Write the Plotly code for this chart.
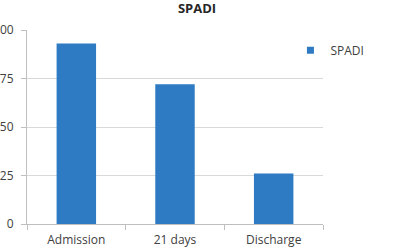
import plotly.graph_objects as go

categories = ["Admission", "21 days", "Discharge"]
values = [93, 72, 26]
y_ticks = [0, 25, 50, 75, 100]
series_name = "SPADI"
bar_color = "#2E7BC4"

fig = go.Figure()
fig.add_trace(go.Bar(x=categories, y=values, name=series_name,
                     marker=dict(color=bar_color, line=dict(width=0)),
                     showlegend=False))
# legend entry with a small square swatch
fig.add_trace(go.Scatter(x=[None], y=[None], mode="markers", name=series_name,
                         marker=dict(symbol="square", size=7, color=bar_color),
                         showlegend=True))

fig.update_layout(
    width=394, height=251,
    margin=dict(l=27, r=71, t=30, b=27, autoexpand=False),
    paper_bgcolor="white", plot_bgcolor="white",
    bargap=0.6,
    font=dict(family="Open Sans", size=12, color="#404040"),
    title=dict(text="<b>SPADI</b>", x=0.5, xanchor="center", y=0.965, yanchor="middle",
               font=dict(family="Open Sans", size=13, color="#262626")),
    showlegend=True,
    legend=dict(x=0.89, y=0.97, xanchor="left", yanchor="top",
                font=dict(size=12, color="#404040"),
                itemwidth=30, bgcolor="rgba(0,0,0,0)"),
    xaxis=dict(showline=True, linecolor="#BFBFBF", linewidth=1,
               ticks="outside", tickson="boundaries", ticklen=5, tickcolor="#BFBFBF",
               automargin=False, showgrid=False, ticklabelstandoff=5),
    yaxis=dict(range=[0, 100], tickvals=y_ticks, showline=True, linecolor="#BFBFBF",
               linewidth=1, ticks="outside", ticklen=5, tickcolor="#BFBFBF",
               gridcolor="#D9D9D9", automargin=False, zeroline=False,
               ticklabelstandoff=5),
)

fig.write_html("out.html")
